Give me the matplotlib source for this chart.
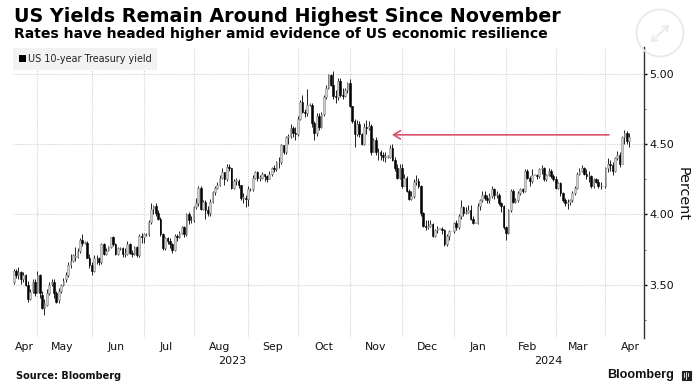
import matplotlib
matplotlib.use("Agg")
import matplotlib.pyplot as plt
from matplotlib.patches import Circle, Rectangle
import pandas as pd

START_DATE = "2023-04-17"
MONTH_STARTS = ["2023-05-01","2023-06-01","2023-07-03","2023-08-01","2023-09-01","2023-10-02",
                "2023-11-01","2023-12-01","2024-01-02","2024-02-01","2024-03-01","2024-04-01"]
MONTH_LABELS = ["Apr","May","Jun","Jul","Aug","Sep","Oct","Nov","Dec","Jan","Feb","Mar","Apr"]
MONTH_LABEL_PX = [24,62,116,166,220,273,324,376,427,478,528,578,630]
YEAR_LABELS = ["2023","2024"]
YEAR_LABEL_PX = [232,548]
Y_TICKS = [3.5,4.0,4.5,5.0]
ARROW_Y = 4.565

opens = [3.52,3.60,3.57,3.59,3.54, 3.57,3.50,3.40,3.46,3.52, 3.45,3.57,3.43,3.34,3.36, 3.44,3.51,3.52,3.44,3.39,
 3.46,3.50,3.54,3.57,3.64, 3.67,3.70,3.70,3.74,3.82, 3.80,3.80,3.69,3.64,3.60, 3.69,3.69,3.66,3.79,3.72,
 3.75,3.77,3.84,3.79,3.72, 3.76,3.76,3.72,3.72,3.79, 3.73,3.72,3.77,3.71,3.85, 3.84,3.86,3.86,3.95,4.04,
 4.06,4.01,3.97,3.86,3.76, 3.83,3.81,3.79,3.75,3.85, 3.84,3.87,3.91,3.86,4.00, 3.96,3.96,4.05,4.08,4.19,
 4.04,4.09,4.03,4.01,4.09, 4.16,4.19,4.21,4.26,4.30, 4.25,4.34,4.33,4.19,4.24, 4.24,4.21,4.12,4.12,4.11,
 4.18,4.18,4.26,4.30,4.26, 4.26,4.29,4.27,4.25,4.29, 4.33,4.32,4.37,4.37,4.49, 4.44,4.55,4.56,4.61,4.58,
 4.57,4.68,4.80,4.73,4.72, 4.78,4.78,4.65,4.58,4.70, 4.62,4.71,4.83,4.90,4.99, 4.92,4.84,4.83,4.95,4.85,
 4.84,4.88,4.93,4.77,4.66, 4.57,4.64,4.57,4.50,4.62, 4.61,4.63,4.44,4.53,4.44, 4.44,4.42,4.41,4.41,4.41,
 4.47,4.39,4.33,4.26,4.33, 4.20,4.26,4.17,4.11,4.13, 4.23,4.24,4.20,4.01,3.92, 3.91,3.92,3.93,3.85,3.89,
 3.90,3.90,3.89,3.79,3.85, 3.88,3.88,3.94,3.91,3.99, 4.05,4.01,4.02,4.03,3.97, 3.94,3.94,4.06,4.10,4.14,
 4.12,4.10,4.13,4.18,4.14, 4.14,4.08,4.06,3.91,3.87, 4.03,4.17,4.09,4.10,4.15, 4.18,4.17,4.31,4.26,4.24,
 4.28,4.28,4.27,4.32,4.33, 4.25,4.28,4.31,4.27,4.25, 4.19,4.22,4.15,4.10,4.08, 4.09,4.10,4.15,4.19,4.29,
 4.31,4.33,4.29,4.27,4.27, 4.20,4.25,4.23,4.20,4.20, 4.20,4.33,4.36,4.35,4.31, 4.40,4.42,4.36,4.55,4.58, 4.52]
highs = [3.61,3.61,3.63,3.60,3.59, 3.58,3.53,3.47,3.54,3.54, 3.60,3.58,3.46,3.40,3.47, 3.52,3.54,3.54,3.46,3.48,
 3.51,3.55,3.59,3.66,3.72, 3.72,3.77,3.76,3.83,3.86, 3.81,3.81,3.72,3.66,3.71, 3.71,3.70,3.80,3.80,3.76,
 3.78,3.84,3.85,3.80,3.77, 3.77,3.77,3.76,3.81,3.80, 3.75,3.78,3.78,3.86,3.87, 3.87,3.87,3.96,4.08,4.07,
 4.08,4.03,3.98,3.87,3.84, 3.84,3.83,3.80,3.86,3.86, 3.88,3.92,3.92,4.01,4.02, 3.99,4.06,4.12,4.20,4.20,
 4.10,4.10,4.06,4.11,4.17, 4.20,4.23,4.28,4.33,4.30, 4.36,4.36,4.33,4.25,4.26, 4.25,4.21,4.15,4.14,4.20,
 4.19,4.28,4.31,4.31,4.28, 4.30,4.29,4.28,4.31,4.34, 4.35,4.38,4.41,4.50,4.49, 4.56,4.57,4.64,4.63,4.62,
 4.70,4.81,4.85,4.75,4.89, 4.79,4.79,4.66,4.72,4.72, 4.73,4.85,4.92,5.00,5.00, 5.02,4.88,4.97,4.97,4.90,
 4.90,4.94,4.96,4.77,4.68, 4.67,4.66,4.58,4.65,4.67, 4.66,4.64,4.54,4.55,4.47, 4.46,4.44,4.44,4.42,4.49,
 4.50,4.41,4.36,4.36,4.36, 4.29,4.27,4.18,4.17,4.25, 4.28,4.26,4.21,4.02,3.96, 3.96,3.96,3.94,3.90,3.92,
 3.90,3.91,3.90,3.86,3.89, 3.88,3.95,3.96,4.00,4.10, 4.06,4.05,4.07,4.07,3.99, 3.94,4.08,4.11,4.17,4.17,
 4.14,4.15,4.20,4.19,4.17, 4.15,4.09,4.07,3.92,4.04, 4.18,4.18,4.12,4.17,4.19, 4.19,4.32,4.32,4.27,4.32,
 4.28,4.29,4.33,4.35,4.34, 4.29,4.33,4.32,4.29,4.27, 4.23,4.23,4.16,4.12,4.11, 4.11,4.17,4.20,4.30,4.33,
 4.35,4.34,4.32,4.31,4.28, 4.26,4.26,4.25,4.23,4.20, 4.34,4.40,4.39,4.37,4.41, 4.45,4.44,4.56,4.60,4.59, 4.58]
lows = [3.51,3.55,3.54,3.51,3.52, 3.49,3.38,3.39,3.44,3.42, 3.44,3.41,3.33,3.29,3.35, 3.43,3.49,3.41,3.37,3.37,
 3.44,3.49,3.52,3.56,3.62, 3.66,3.67,3.69,3.73,3.78, 3.79,3.69,3.62,3.57,3.59, 3.65,3.64,3.65,3.71,3.71,
 3.74,3.76,3.78,3.71,3.71, 3.75,3.70,3.70,3.71,3.72, 3.70,3.71,3.70,3.70,3.80, 3.80,3.85,3.85,3.93,4.00,
 3.99,3.96,3.85,3.75,3.75, 3.79,3.76,3.73,3.74,3.81, 3.83,3.86,3.84,3.85,3.93, 3.94,3.95,4.04,4.06,4.03,
 4.03,3.97,3.99,3.99,4.08, 4.14,4.18,4.20,4.25,4.21, 4.24,4.31,4.18,4.18,4.21, 4.19,4.10,4.08,4.05,4.06,
 4.17,4.17,4.25,4.24,4.24, 4.25,4.24,4.23,4.25,4.27, 4.30,4.31,4.33,4.36,4.43, 4.43,4.50,4.54,4.55,4.53,
 4.56,4.67,4.72,4.69,4.70, 4.77,4.62,4.53,4.56,4.60, 4.61,4.70,4.82,4.89,4.91, 4.82,4.79,4.81,4.83,4.82,
 4.83,4.86,4.76,4.65,4.48, 4.56,4.55,4.49,4.49,4.57, 4.60,4.42,4.44,4.42,4.39, 4.39,4.38,4.37,4.40,4.40,
 4.38,4.31,4.25,4.25,4.19, 4.20,4.16,4.10,4.10,4.12, 4.21,4.19,3.99,3.91,3.89, 3.90,3.91,3.84,3.84,3.87,
 3.90,3.86,3.78,3.78,3.82, 3.88,3.87,3.89,3.90,3.97, 3.99,4.00,4.01,3.96,3.93, 3.94,3.93,4.03,4.09,4.10,
 4.08,4.08,4.12,4.11,4.12, 4.07,4.02,3.90,3.82,3.86, 4.02,4.08,4.08,4.09,4.14, 4.15,4.16,4.25,4.20,4.22,
 4.28,4.25,4.26,4.29,4.24, 4.24,4.27,4.26,4.24,4.18, 4.18,4.13,4.09,4.06,4.04, 4.07,4.09,4.14,4.18,4.28,
 4.30,4.28,4.25,4.23,4.19, 4.19,4.22,4.19,4.18,4.20, 4.19,4.30,4.31,4.28,4.30, 4.39,4.34,4.36,4.50,4.50, 4.48]
closes = [3.60,3.57,3.59,3.54,3.57, 3.50,3.40,3.45,3.52,3.44, 3.57,3.44,3.34,3.37,3.44, 3.50,3.52,3.44,3.38,3.46,
 3.50,3.53,3.57,3.64,3.67, 3.71,3.70,3.74,3.82,3.80, 3.80,3.69,3.64,3.60,3.69, 3.69,3.66,3.79,3.72,3.74,
 3.77,3.84,3.79,3.72,3.76, 3.76,3.72,3.72,3.79,3.73, 3.72,3.77,3.71,3.85,3.84, 3.86,3.86,3.95,4.04,4.06,
 4.01,3.97,3.86,3.76,3.83, 3.81,3.79,3.75,3.85,3.84, 3.87,3.91,3.86,4.00,3.96, 3.96,4.05,4.08,4.19,4.04,
 4.09,4.03,4.01,4.09,4.16, 4.19,4.21,4.26,4.30,4.25, 4.34,4.33,4.19,4.24,4.24, 4.21,4.12,4.12,4.11,4.18,
 4.18,4.26,4.30,4.26,4.26, 4.29,4.27,4.25,4.29,4.33, 4.32,4.37,4.37,4.49,4.44, 4.55,4.56,4.61,4.58,4.57,
 4.68,4.80,4.73,4.72,4.78, 4.78,4.65,4.58,4.70,4.62, 4.71,4.83,4.90,4.99,4.92, 4.84,4.83,4.95,4.85,4.84,
 4.88,4.93,4.77,4.66,4.57, 4.64,4.57,4.50,4.62,4.61, 4.63,4.44,4.53,4.44,4.44, 4.42,4.41,4.41,4.41,4.47,
 4.39,4.33,4.26,4.33,4.20, 4.26,4.17,4.11,4.13,4.23, 4.24,4.20,4.01,3.92,3.91, 3.92,3.93,3.85,3.89,3.90,
 3.90,3.89,3.79,3.85,3.88, 3.88,3.94,3.91,3.99,4.05, 4.01,4.02,4.03,3.97,3.94, 3.94,4.06,4.10,4.14,4.12,
 4.10,4.13,4.18,4.14,4.14, 4.08,4.06,3.91,3.87,4.03, 4.17,4.09,4.10,4.15,4.18, 4.17,4.31,4.26,4.24,4.28,
 4.28,4.27,4.32,4.33,4.25, 4.28,4.31,4.27,4.25,4.19, 4.22,4.15,4.10,4.08,4.09, 4.10,4.15,4.19,4.29,4.31,
 4.33,4.29,4.27,4.27,4.20, 4.25,4.23,4.20,4.20,4.20, 4.33,4.36,4.35,4.31,4.40, 4.42,4.36,4.55,4.58,4.52, 4.55]

W, H = 699, 390
fig = plt.figure(figsize=(W/100, H/100), dpi=100, facecolor="white")
AX_L, AX_R, AX_T, AX_B = 13, 644, 47, 338
ax = fig.add_axes([AX_L/W, 1-AX_B/H, (AX_R-AX_L)/W, (AX_B-AX_T)/H])

dates = pd.bdate_range(START_DATE, periods=len(closes))
idx = list(range(len(dates)))
pos = {d: i for i, d in enumerate(dates)}
month_ticks = [pos[pd.Timestamp(m)] for m in MONTH_STARTS]

ax.set_xlim(-0.3, 266.3)
ax.set_ylim(3.124, 5.188)

grid = dict(color="#d0d0d0", lw=0.8, ls=(0, (1, 1.2)), zorder=0)
for t in month_ticks:
    ax.axvline(t, **grid)
for y in Y_TICKS:
    ax.axhline(y, **grid)

up = [c >= o for o, c in zip(opens, closes)]
ax.vlines(idx, lows, highs, color="#222222", lw=0.7, zorder=2)
for i, o, c, u in zip(idx, opens, closes, up):
    b, h = min(o, c), max(abs(c-o), 0.004)
    ax.bar(i, h, bottom=b, width=0.72, color="#cfcfcf" if u else "black",
           edgecolor="#8a8a8a" if u else "black", linewidth=0.4, zorder=3)

ax.annotate("", xy=(159.8, ARROW_Y), xytext=(251.5, ARROW_Y),
            arrowprops=dict(arrowstyle="->,head_length=0.5,head_width=0.3", color="#d8526b", lw=1.2,
                            shrinkA=0, shrinkB=0), zorder=4)

for s in ["top", "left", "bottom"]:
    ax.spines[s].set_visible(False)
ax.spines["right"].set_color("#333333")
ax.spines["right"].set_linewidth(1.0)
ax.set_xticks([])
ax.yaxis.tick_right()
ax.set_yticks(Y_TICKS)
ax.set_yticklabels([f"{y:.2f}" for y in Y_TICKS], fontsize=8, color="#111111")
ax.set_yticks([3.25, 3.75, 4.25, 4.75], minor=True)
ax.tick_params(axis="y", which="major", length=2.5, width=1, color="#111111", pad=1.5)
ax.tick_params(axis="y", which="minor", length=1.5, width=0.6, color="#555555")

def px(x, y, s, **k):
    return fig.text(x/W, 1-y/H, s, **k)

fig.add_artist(Rectangle((13/W, 1-70/H), 144/W, 22/H, transform=fig.transFigure, fc="#f2f2f2", ec="none", zorder=5))
fig.add_artist(Rectangle((19/W, 1-62/H), 6.5/W, 6.5/H, transform=fig.transFigure, fc="black", ec="none", zorder=6))
px(28, 59, "US 10-year Treasury yield", fontsize=6.95, va="center", ha="left", color="#222222", zorder=6)

for x, s in zip(MONTH_LABEL_PX, MONTH_LABELS):
    px(x, 347, s, fontsize=7.8, ha="center", va="center", color="#111111")
for x, s in zip(YEAR_LABEL_PX, YEAR_LABELS):
    px(x, 361, s, fontsize=8, ha="center", va="center", color="#111111")
px(683, 194, "Percent", fontsize=10.4, rotation=270, ha="center", va="center", color="#111111")

px(14, 16, "US Yields Remain Around Highest Since November", fontsize=13.75, fontweight="bold", ha="left", va="center")
px(14, 34, "Rates have headed higher amid evidence of US economic resilience", fontsize=10.08, fontweight="bold", ha="left", va="center")
px(16, 376, "Source: Bloomberg", fontsize=7.07, fontweight="bold", ha="left", va="center", color="#111111")
px(607, 375, "Bloomberg", fontsize=9.1, fontweight="bold", family="Liberation Sans", ha="left", va="center", color="#111111")

# expand icon and logo
ic = fig.add_axes([0, 0, 1, 1], facecolor="none")
ic.set_xlim(0, W); ic.set_ylim(H, 0); ic.axis("off")
ic.add_patch(Circle((660, 33), 23.5, fc="none", ec="#e9e9e9", lw=1.3))
ic.annotate("", xy=(669, 25), xytext=(651, 42), arrowprops=dict(arrowstyle="<->,head_length=0.35,head_width=0.25", color="#e9e9e9", lw=1.2, shrinkA=0, shrinkB=0))
ic.add_patch(Rectangle((681.5, 370.5), 9, 9, fc="#222222", ec="#222222", lw=0.8, joinstyle="round"))
for x, y0, y1 in [(683.5, 373, 377), (685.5, 372, 379), (687.5, 373, 376)]:
    ic.plot([x, x], [y0, y1], color="white", lw=0.6)

fig.savefig("out.png", dpi=100)
